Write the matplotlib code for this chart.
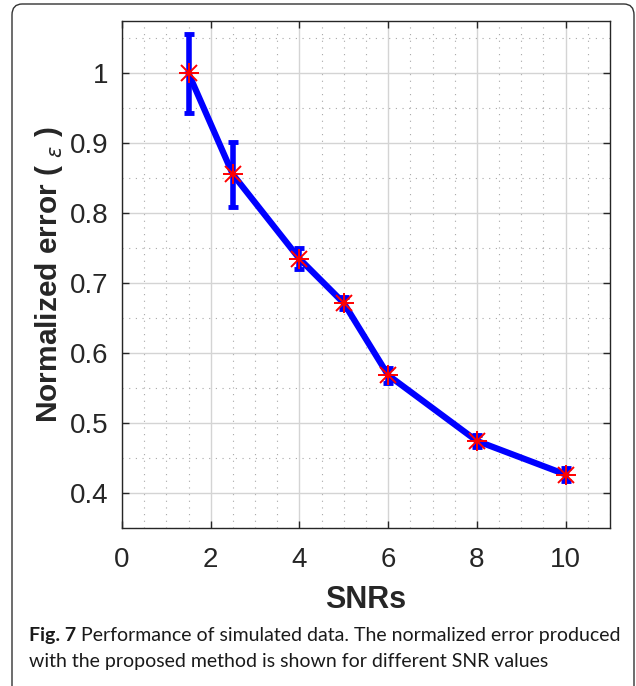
import matplotlib
matplotlib.use("Agg")
import matplotlib.pyplot as plt
from matplotlib.patches import FancyBboxPatch
from matplotlib.ticker import MultipleLocator

snr = [1.5, 2.5, 4, 5, 6, 8, 10]
err = [1.0, 0.8555, 0.735, 0.6716, 0.5685, 0.4745, 0.4265]
std = [0.057, 0.047, 0.015, 0.009, 0.011, 0.008, 0.009]
xticks = [0, 2, 4, 6, 8, 10]
yticks = [0.4, 0.5, 0.6, 0.7, 0.8, 0.9, 1.0]
ytick_labels = ["0.4", "0.5", "0.6", "0.7", "0.8", "0.9", "1"]

W, H = 636, 686
fig = plt.figure(figsize=(W / 100, H / 100), dpi=100)
plt.rcParams['mathtext.fontset'] = 'dejavusans'

# border
border = FancyBboxPatch((12 / W, -20 / H), (634 - 12) / W, (H - 4 + 20) / H,
                        boxstyle="round,pad=0,rounding_size=0.016",
                        transform=fig.transFigure, fill=False,
                        edgecolor="#333333", linewidth=1.0, clip_on=False)
fig.patches.append(border)

ax = fig.add_axes([122 / W, (H - 528) / H, (610 - 122) / W, (528 - 21) / H])
tc = "#262626"
ax.set_xlim(0, 11)
ax.set_ylim(0.35, 1.075)
ax.set_xticks(xticks)
ax.set_xticklabels([str(v) for v in xticks])
ax.set_yticks(yticks)
ax.set_yticklabels(ytick_labels)
ax.xaxis.set_minor_locator(MultipleLocator(0.5))
ax.yaxis.set_minor_locator(MultipleLocator(0.05))
ax.grid(which="major", color="#d4d4d4", linewidth=1.0, linestyle="-")
ax.grid(which="minor", color="#a8a8a8", linewidth=0.8, linestyle=(0, (1, 5)))
ax.set_axisbelow(True)
ax.tick_params(which="major", direction="in", length=5, width=1, color=tc,
               top=True, right=True, labelsize=20, labelcolor=tc)
ax.tick_params(axis="y", which="major", pad=10)
ax.tick_params(axis="x", which="major", pad=14)
ax.tick_params(which="minor", length=0, top=True, right=True)
for lab in ax.get_xticklabels() + ax.get_yticklabels():
    lab.set_fontfamily("Liberation Sans")
for s in ax.spines.values():
    s.set_color(tc)
    s.set_linewidth(1.0)

ax.errorbar(snr, err, yerr=std, color="#0000ff", linewidth=4.5,
            elinewidth=4.0, capsize=3.5, capthick=3.5, zorder=3)
ax.plot(snr, err, linestyle="none", marker="+", markersize=15,
        markeredgewidth=1.4, color="#ff0000", zorder=4)
ax.plot(snr, err, linestyle="none", marker="x", markersize=11,
        markeredgewidth=1.4, color="#ff0000", zorder=4)

ax.set_xlabel("SNRs", fontsize=22, fontweight="bold", family="Liberation Sans",
              color=tc, labelpad=8)
ax.set_ylabel(r"Normalized error ( $_{\epsilon}$ )", fontsize=21.5, fontweight="bold",
              family="Liberation Sans", color=tc, labelpad=3)

# caption
cap_font = "Lato"
fs = 14.0
t1 = fig.text(29 / W, 1 - 636 / H, "Fig. 7", fontsize=fs, fontweight="bold",
              family=cap_font, va="center", ha="left", color="#1a1a1a")
fig.canvas.draw()
r = fig.canvas.get_renderer()
bb = t1.get_window_extent(r)
x2 = (bb.x1 + 5) / W
fig.text(x2, 1 - 636 / H, "Performance of simulated data. The normalized error produced",
         fontsize=fs, family=cap_font, va="center", ha="left", color="#1a1a1a")
fig.text(29 / W, 1 - 661 / H, "with the proposed method is shown for different SNR values",
         fontsize=fs, family=cap_font, va="center", ha="left", color="#1a1a1a")

fig.savefig("out.png", dpi=100)
